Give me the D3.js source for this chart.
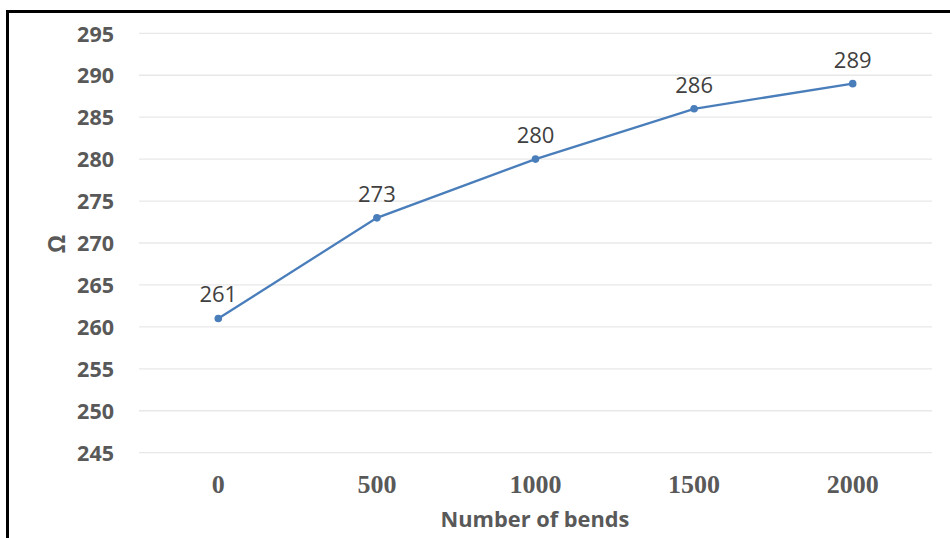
<!DOCTYPE html>
<html>
<head>
<meta charset="utf-8">
<script src="https://cdn.jsdelivr.net/npm/d3@7"></script>
<style>
  html, body { margin: 0; padding: 0; background: #fff; }
  svg { display: block; }
</style>
</head>
<body>
<svg id="chart" width="950" height="538"></svg>
<script>
const categories = ["0", "500", "1000", "1500", "2000"];
const values = [261, 273, 280, 286, 289];
const yTicks = [245, 250, 255, 260, 265, 270, 275, 280, 285, 290, 295];
const xTitle = "Number of bends";
const yTitle = "Ω";

const svg = d3.select("#chart");
const W = 950, H = 538;
const plot = { left: 139, right: 932, top: 33.3, bottom: 452.7 };

// frame
svg.append("rect").attr("x", 0).attr("y", 0).attr("width", W).attr("height", H).attr("fill", "#fff");
svg.append("path")
  .attr("d", `M7.5,${H} L7.5,11.5 L${W},11.5`)
  .attr("fill", "none").attr("stroke", "#000").attr("stroke-width", 3);

const x = d3.scaleBand().domain(categories).range([plot.left, plot.right]).padding(0);
const y = d3.scaleLinear().domain([245, 295]).range([plot.bottom, plot.top]);

// gridlines
svg.append("g").selectAll("line").data(yTicks).join("line")
  .attr("x1", plot.left).attr("x2", plot.right)
  .attr("y1", d => y(d)).attr("y2", d => y(d))
  .attr("stroke", "#e8e8e8").attr("stroke-width", 1.3);

// y axis labels
const yAxis = d3.axisLeft(y).tickValues(yTicks).tickSize(0).tickPadding(0);
const gy = svg.append("g").attr("transform", "translate(114,0)").call(yAxis);
gy.select(".domain").remove();
gy.selectAll("text")
  .attr("font-family", "'Open Sans', sans-serif")
  .attr("font-weight", "bold").attr("font-size", 21.5)
  .attr("fill", "#595959").attr("dy", "0.36em");

// x axis labels
const xAxis = d3.axisBottom(x).tickSize(0).tickPadding(0);
const gx = svg.append("g").attr("transform", "translate(0,493)").call(xAxis);
gx.select(".domain").remove();
gx.selectAll("text")
  .attr("font-family", "'Liberation Serif', 'Times New Roman', serif")
  .attr("font-weight", "bold").attr("font-size", 26)
  .attr("fill", "#595959").attr("dy", 0).attr("y", 0);

// axis titles
svg.append("text").attr("x", 535).attr("y", 527)
  .attr("text-anchor", "middle")
  .attr("font-family", "'Open Sans', sans-serif").attr("font-weight", "bold").attr("font-size", 21.8)
  .attr("fill", "#595959").text(xTitle);
svg.append("text")
  .attr("transform", "translate(65,244) rotate(-90)")
  .attr("text-anchor", "middle")
  .attr("font-family", "'Open Sans', sans-serif").attr("font-weight", "bold").attr("font-size", 23)
  .attr("fill", "#595959").text(yTitle);

const data = categories.map((c, i) => ({ c, v: values[i] }));
const cx = d => x(d.c) + x.bandwidth() / 2;

svg.append("path").datum(data)
  .attr("d", d3.line().x(cx).y(d => y(d.v)))
  .attr("fill", "none").attr("stroke", "#4a7ebb").attr("stroke-width", 2.3);

svg.append("g").selectAll("circle").data(data).join("circle")
  .attr("cx", cx).attr("cy", d => y(d.v)).attr("r", 3.8)
  .attr("fill", "#4a7ebb");

svg.append("g").selectAll("text").data(data).join("text")
  .attr("x", cx).attr("y", d => y(d.v) - 16)
  .attr("text-anchor", "middle")
  .attr("font-family", "'Open Sans', sans-serif").attr("font-size", 22)
  .attr("fill", "#404040").text(d => d.v);
</script>
</body>
</html>
